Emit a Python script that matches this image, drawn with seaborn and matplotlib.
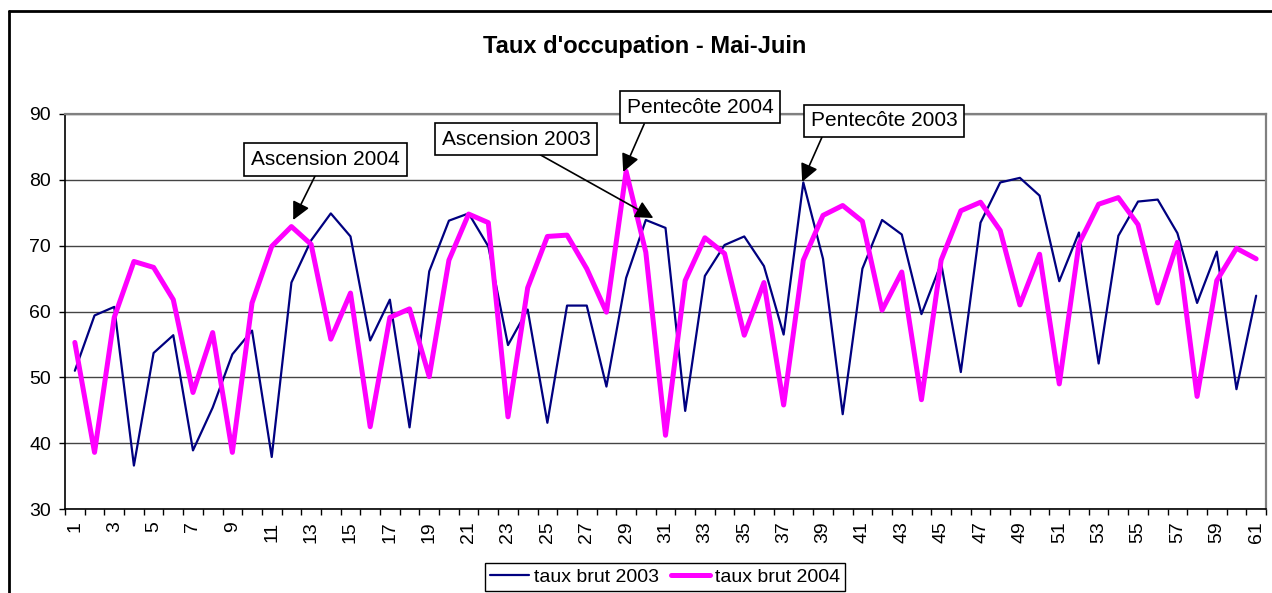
import numpy as np
import pandas as pd
import matplotlib
matplotlib.use('Agg')
import matplotlib.pyplot as plt
from matplotlib.lines import Line2D
from matplotlib.ticker import MultipleLocator
import seaborn as sns

# values (days 1..61, May-June)
jours = list(range(1, 62))
taux_2003 = [51.0, 59.4, 60.7, 36.6, 53.7, 56.4, 38.9, 45.4, 53.5, 57.1,
             37.9, 64.4, 70.8, 74.9, 71.4, 55.6, 61.8, 42.4, 66.1, 73.8,
             74.9, 69.9, 54.9, 60.3, 43.1, 60.9, 60.9, 48.6, 65.1, 73.9,
             72.7, 44.9, 65.4, 70.1, 71.4, 66.9, 56.5, 79.6, 68.0, 44.4,
             66.5, 73.9, 71.7, 59.6, 67.3, 50.8, 73.5, 79.6, 80.3, 77.6,
             64.6, 72.0, 52.1, 71.5, 76.7, 77.0, 71.9, 61.3, 69.1, 48.2,
             62.4]
taux_2004 = [55.3, 38.6, 59.1, 67.6, 66.7, 61.8, 47.7, 56.8, 38.6, 61.3,
             69.9, 72.9, 70.2, 55.8, 62.8, 42.5, 59.1, 60.4, 50.1, 67.8,
             74.8, 73.5, 44.0, 63.6, 71.4, 71.6, 66.5, 59.9, 81.3, 69.0,
             41.2, 64.7, 71.2, 68.8, 56.4, 64.4, 45.8, 67.8, 74.6, 76.1,
             73.7, 60.2, 66.0, 46.6, 67.8, 75.3, 76.6, 72.3, 61.0, 68.7,
             49.0, 70.3, 76.3, 77.3, 73.2, 61.3, 70.5, 47.1, 64.7, 69.6,
             68.0]
series = ['taux brut 2003', 'taux brut 2004']
y_ticks = [30, 40, 50, 60, 70, 80, 90]

# annotations: label, text centre, arrow start, arrow tip (data units)
notes = [
    ('Ascension 2004', (13.73, 83.1), (13.22, 80.7), (12.09, 73.9)),
    ('Ascension 2003', (23.42, 86.2), (24.64, 83.8), (30.38, 74.2)),
    ('Pentecôte 2004', (32.76, 91.06), (29.92, 88.5), (28.85, 81.2)),
    ('Pentecôte 2003', (42.10, 88.94), (38.95, 86.5), (37.94, 79.7)),
]

df = pd.DataFrame({'jour': jours * 2,
                   'taux': taux_2003 + taux_2004,
                   'serie': [series[0]] * 61 + [series[1]] * 61})

sns.set_style('white')
plt.rcParams['font.family'] = ['Liberation Sans', 'DejaVu Sans']
plt.rcParams.update({'text.color': 'black', 'axes.labelcolor': 'black',
                     'xtick.color': 'black', 'ytick.color': 'black'})

fig = plt.figure(figsize=(12.72, 5.93), dpi=100)
ax = fig.add_axes([65 / 1272, 1 - 509 / 593, 1201 / 1272, 395 / 593])

colors = {series[0]: '#000080', series[1]: '#ff00ff'}
widths = {series[0]: 1.6, series[1]: 3.6}
for s in series:
    sns.lineplot(data=df[df['serie'] == s], x='jour', y='taux', color=colors[s],
                 lw=widths[s], ax=ax, label=s, legend=False)

ax.set_xlim(0.5, 61.5)
ax.set_ylim(30, 90)
ax.set_yticks(y_ticks)
ax.set_xticks(jours[::2])
ax.set_xticklabels([str(j) for j in jours[::2]], rotation=90)
ax.xaxis.set_minor_locator(MultipleLocator(1, offset=0.5))
ax.tick_params(axis='x', which='major', length=0, pad=9, labelsize=14, labelcolor='black')
ax.tick_params(axis='x', which='minor', length=4, width=1, color='black', direction='out', bottom=True)
ax.tick_params(axis='y', length=4, width=1, color='black', direction='out', left=True, pad=6,
               labelsize=14, labelcolor='black')
ax.set_xlabel('')
ax.set_ylabel('')
ax.yaxis.grid(True, color='#444444', lw=1)
ax.set_axisbelow(True)

for side in ['left', 'bottom']:
    ax.spines[side].set_color('black')
    ax.spines[side].set_linewidth(1.2)
for side in ['top', 'right']:
    ax.spines[side].set_color('#808080')
    ax.spines[side].set_linewidth(1.6)

fig.text(645 / 1272, 1 - 47 / 593, "Taux d'occupation - Mai-Juin", ha='center', va='center',
         fontsize=17, fontweight='bold', color='black')

for label, txt_xy, start, tip in notes:
    ax.annotate('', xy=tip, xytext=start, annotation_clip=False,
                arrowprops=dict(arrowstyle='-|>', color='black', lw=1.2,
                                mutation_scale=27, shrinkA=0, shrinkB=0))
    ax.text(txt_xy[0], txt_xy[1], label, ha='center', va='center', fontsize=15, clip_on=False,
            color='black',
            bbox=dict(boxstyle='square,pad=0.32', fc='white', ec='black', lw=1.2), zorder=5)

handles = [Line2D([], [], color=colors[s], lw=widths[s]) for s in series]
leg = fig.legend(handles, series, loc='center', bbox_to_anchor=(665 / 1272, 1 - 577 / 593),
                 ncol=2, fontsize=14, frameon=True, fancybox=False, framealpha=1,
                 handlelength=2.0, handletextpad=0.25, columnspacing=0.6,
                 borderpad=0.25, borderaxespad=0)
leg.get_frame().set_edgecolor('black')
leg.get_frame().set_linewidth(1.0)

# outer chart border (only top and left visible in the crop)
fig.add_artist(Line2D([9 / 1272, 9 / 1272], [0, 1 - 11 / 593], transform=fig.transFigure,
                      color='black', lw=2))
fig.add_artist(Line2D([9 / 1272, 1], [1 - 11 / 593, 1 - 11 / 593], transform=fig.transFigure,
                      color='black', lw=2))

fig.savefig('out.png', dpi=100)
